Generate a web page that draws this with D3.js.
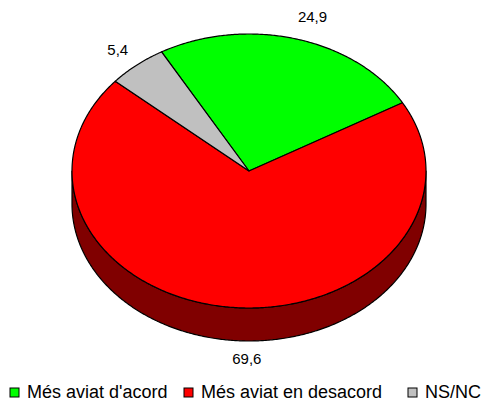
<!DOCTYPE html>
<html><head><meta charset="utf-8">
<script src="https://cdn.jsdelivr.net/npm/d3@7"></script>
<style>body{margin:0;background:#fff}svg{display:block}text{font-family:"Liberation Sans",Arial,sans-serif}</style>
</head><body>
<script>
const categories = ["Més aviat d'acord", "Més aviat en desacord", "NS/NC"];
const values = [24.9, 69.6, 5.4];
const labels = ["24,9", "69,6", "5,4"];
const colors = ["#00ff00", "#ff0000", "#c0c0c0"];
const sideColors = ["#008000", "#800000", "#606060"];

const W = 493, H = 403;
const cx = 249, cy = 171, rx = 177, ry = 137, depth = 33;
const deg = Math.PI / 180;
const start = -29.6 * deg;
const labelShift = [[9, 0], [17, 2], [0, 2]];

const svg = d3.select("body").append("svg").attr("width", W).attr("height", H);

const pie = d3.pie().sort(null).startAngle(start).endAngle(start + 2 * Math.PI);
const arcs = pie(values);

const pt = (a, dy = 0, k = 1) => [cx + rx * k * Math.sin(a), cy - ry * k * Math.cos(a) + dy];

function arcPoints(a0, a1, dy) {
  const n = Math.max(2, Math.ceil(Math.abs(a1 - a0) / (0.5 * deg)));
  return d3.range(n + 1).map(i => pt(a0 + (a1 - a0) * i / n, dy));
}
const line = d3.line();

const g = svg.append("g");
arcs.forEach((d, i) => {
  for (let shift = -2 * Math.PI; shift <= 2 * Math.PI; shift += 2 * Math.PI) {
    const a0 = Math.max(d.startAngle + shift, 90 * deg);
    const a1 = Math.min(d.endAngle + shift, 270 * deg);
    if (a1 > a0) {
      const top = arcPoints(a0, a1, 0);
      const bot = arcPoints(a1, a0, depth);
      g.append("path")
        .attr("d", line(top.concat(bot)) + "Z")
        .attr("fill", sideColors[i])
        .attr("stroke", "#000").attr("stroke-width", 1.2).attr("stroke-linejoin", "round");
    }
  }
});

arcs.forEach((d, i) => {
  const pts = [[cx, cy]].concat(arcPoints(d.startAngle, d.endAngle, 0));
  g.append("path")
    .attr("d", line(pts) + "Z")
    .attr("fill", colors[i])
    .attr("stroke", "#000").attr("stroke-width", 1.2).attr("stroke-linejoin", "round");
});

arcs.forEach((d, i) => {
  const a = (d.startAngle + d.endAngle) / 2;
  const front = Math.cos(a) < 0;
  const k = front ? 1.12 : 1.17;
  const p = pt(a, front ? depth : 0, k);
  svg.append("text")
    .attr("x", p[0] + labelShift[i][0]).attr("y", p[1] + labelShift[i][1])
    .attr("text-anchor", "middle").attr("dominant-baseline", "central")
    .attr("font-size", 15).attr("fill", "#000")
    .text(labels[i]);
});

const leg = svg.append("g");
const legX = [10, 184, 408];
categories.forEach((c, i) => {
  leg.append("rect").attr("x", legX[i]).attr("y", 388).attr("width", 9).attr("height", 9)
    .attr("fill", colors[i]).attr("stroke", "#000").attr("stroke-width", 1);
  leg.append("text").attr("x", legX[i] + 17).attr("y", 398)
    .attr("font-size", 18).attr("fill", "#000").text(c);
});
</script>
</body></html>
